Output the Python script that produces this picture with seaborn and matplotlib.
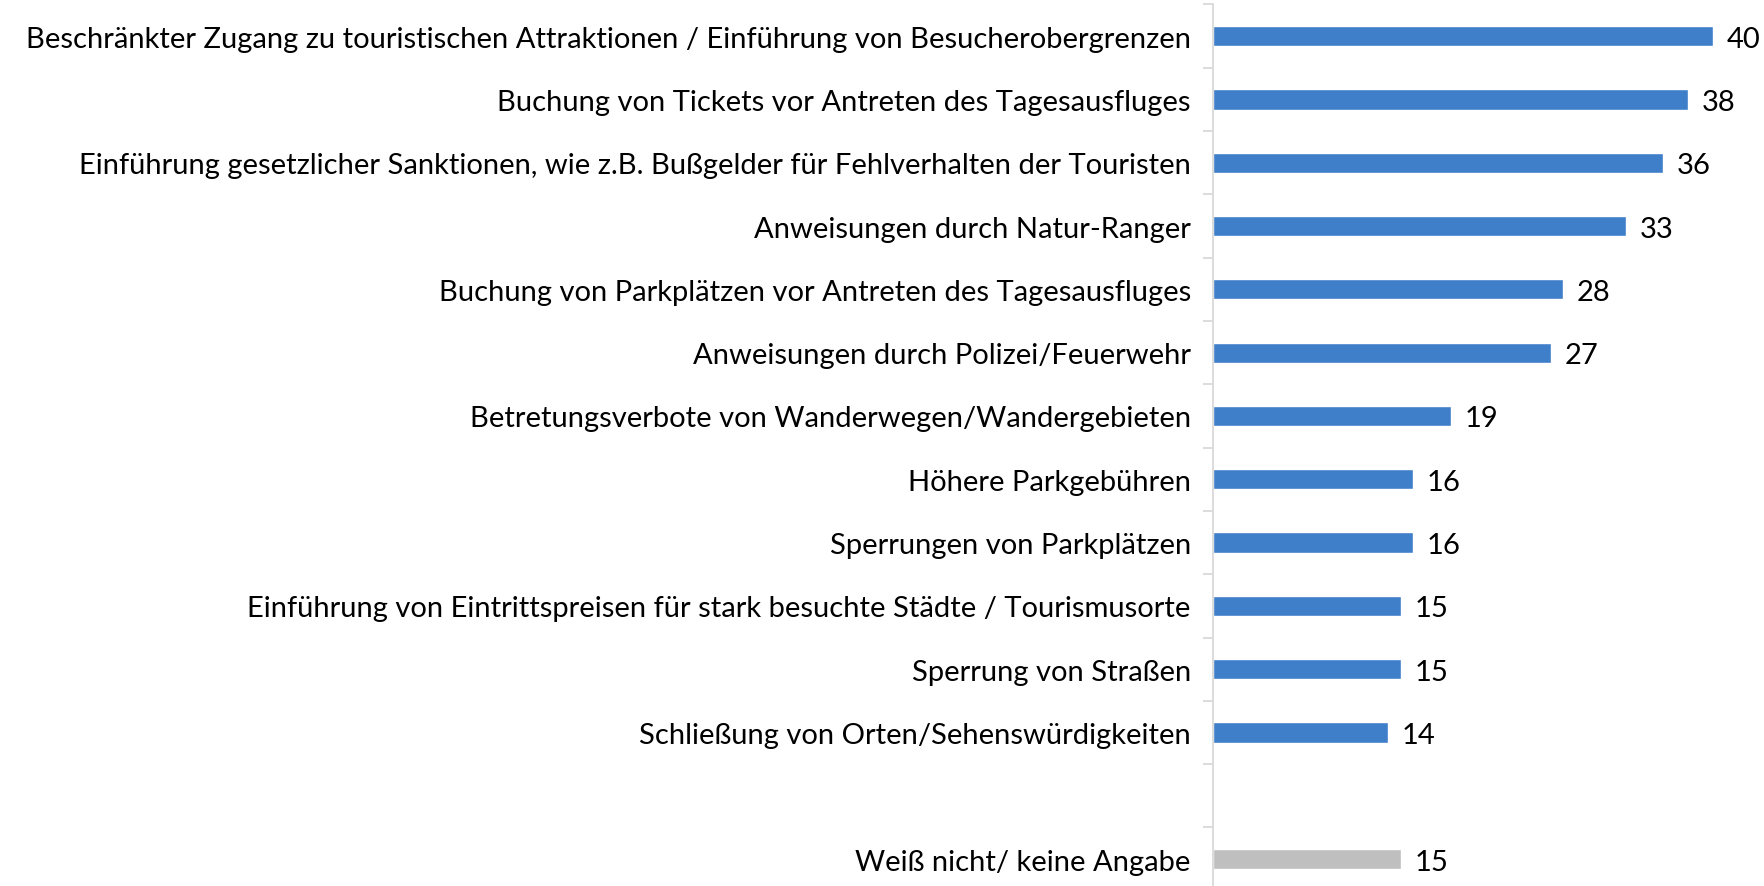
import pandas as pd
import matplotlib.pyplot as plt
import seaborn as sns

# chart data
categories = [
    "Beschränkter Zugang zu touristischen Attraktionen / Einführung von Besucherobergrenzen",
    "Buchung von Tickets vor Antreten des Tagesausfluges",
    "Einführung gesetzlicher Sanktionen, wie z.B. Bußgelder für Fehlverhalten der Touristen",
    "Anweisungen durch Natur-Ranger",
    "Buchung von Parkplätzen vor Antreten des Tagesausfluges",
    "Anweisungen durch Polizei/Feuerwehr",
    "Betretungsverbote von Wanderwegen/Wandergebieten",
    "Höhere Parkgebühren",
    "Sperrungen von Parkplätzen",
    "Einführung von Eintrittspreisen für stark besuchte Städte / Tourismusorte",
    "Sperrung von Straßen",
    "Schließung von Orten/Sehenswürdigkeiten",
    "Weiß nicht/ keine Angabe",
]
values = [40, 38, 36, 33, 28, 27, 19, 16, 16, 15, 15, 14, 15]
groups = ["Maßnahme"] * 12 + ["Keine Angabe"]

df = pd.DataFrame({"label": categories, "value": values, "group": groups})
# blank slot between the measures and "weiß nicht"
order = categories[:12] + [" "] + categories[12:]

sns.set_style("white")
plt.rcParams["font.family"] = ["Lato", "DejaVu Sans"]

fig = plt.figure(figsize=(17.65, 8.87), dpi=100)
ax = fig.add_axes([0.6873, -0.0053, 0.3116, 0.9991])

sns.barplot(data=df, x="value", y="label", hue="group", order=order,
            palette={"Maßnahme": "#3F7EC9", "Keine Angabe": "#BFBFBF"},
            saturation=1, width=0.32, dodge=False, legend=False, ax=ax)

for c in ax.containers:
    for t in ax.bar_label(c, fmt="%d", padding=10, fontsize=21, color="black"):
        t.set_va("center_baseline")

ax.set_xlim(0, 44)
ax.set_ylim(len(order) - 0.5, -0.5)
ax.set_xlabel("")
ax.set_ylabel("")
ax.set_xticks([])
ax.set_yticks(range(len(order)), order)
ax.set_yticks([i - 0.5 for i in range(len(order) + 1)], minor=True)
ax.tick_params(axis="y", which="major", length=0, pad=16, labelsize=21, labelcolor="black")
ax.tick_params(axis="y", which="minor", length=7, color="#D9D9D9", width=1.3, left=True)
for s in ["top", "right", "bottom"]:
    ax.spines[s].set_visible(False)
ax.spines["left"].set_color("#D9D9D9")
ax.spines["left"].set_linewidth(1.3)

plt.savefig("out.png", dpi=100)
